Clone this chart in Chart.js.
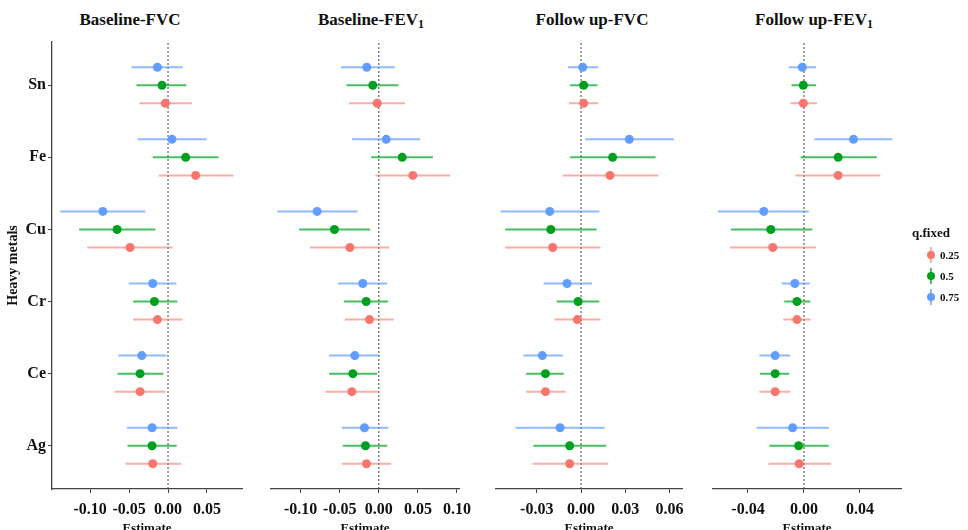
<!DOCTYPE html>
<html>
<head>
<meta charset="utf-8">
<script src="https://cdn.jsdelivr.net/npm/chart.js@4.4.1/dist/chart.umd.min.js"></script>
<style>
  html, body { margin: 0; padding: 0; background: #fff; width: 968px; height: 530px; overflow: hidden; }
  body { position: relative; font-family: "Liberation Serif", "DejaVu Serif", serif; }
  .panel { position: absolute; top: 0; height: 536px; }
  .ttl { position: absolute; top: 10px; font-weight: bold; font-size: 17px; transform: translateX(-50%); white-space: nowrap; color: #111; }
  .ttl sub { font-size: 12px; vertical-align: -3px; }
  #legend { position: absolute; left: 912px; top: 225px; font-weight: bold; color: #111; }
  #legend .lt { font-size: 13px; margin-bottom: 4px; }
  #legend .it { position: relative; height: 21px; font-size: 11px; }
  #legend .it span.lab { position: absolute; left: 28px; top: 4px; }
  #legend .bar { position: absolute; left: 18px; top: 2px; width: 2px; height: 16px; }
  #legend .dot { position: absolute; left: 15px; top: 6px; width: 8px; height: 8px; border-radius: 50%; }
</style>
</head>
<body>
<div class="ttl" style="left:130px">Baseline-FVC</div>
<div class="ttl" style="left:371px">Baseline-FEV<sub>1</sub></div>
<div class="ttl" style="left:592px">Follow up-FVC</div>
<div class="ttl" style="left:814px">Follow up-FEV<sub>1</sub></div>

<div class="panel" style="left:0px;width:262px"><canvas id="p1" width="262" height="536"></canvas></div>
<div class="panel" style="left:251px;width:228px"><canvas id="p2" width="228" height="536"></canvas></div>
<div class="panel" style="left:476px;width:226px"><canvas id="p3" width="226" height="536"></canvas></div>
<div class="panel" style="left:693px;width:228px"><canvas id="p4" width="228" height="536"></canvas></div>

<div id="legend"><div class="lt">q.fixed</div></div>

<script>
// categories, top to bottom
var categories = ["Sn", "Fe", "Cu", "Cr", "Ce", "Ag"];
var quantiles = ["0.25", "0.5", "0.75"];

// [estimate, lower, upper] for each metal
var baseFvc25 = [[-0.0034,-0.0367,0.0308],[0.0355,-0.0119,0.0838],[-0.0487,-0.1038,0.006],[-0.0136,-0.0449,0.0184],[-0.0359,-0.0688,-0.0034],[-0.0196,-0.0547,0.0167]];
var baseFvc50 = [[-0.0077,-0.0405,0.0236],[0.0227,-0.0196,0.065],[-0.0654,-0.1141,-0.0162],[-0.0175,-0.0449,0.012],[-0.0359,-0.0649,-0.0059],[-0.0205,-0.052,0.0111]];
var baseFvc75 = [[-0.0136,-0.047,0.0188],[0.0051,-0.0392,0.0496],[-0.0837,-0.1385,-0.029],[-0.0196,-0.0504,0.0107],[-0.0337,-0.0636,-0.002],[-0.0205,-0.053,0.012]];

var baseFev25 = [[-0.0021,-0.038,0.0333],[0.0436,-0.0043,0.0914],[-0.0371,-0.088,0.0132],[-0.012,-0.0436,0.0192],[-0.0346,-0.0683,-0.0004],[-0.0158,-0.0474,0.0158]];
var baseFev50 = [[-0.0077,-0.0414,0.0252],[0.0299,-0.0098,0.0692],[-0.0568,-0.102,-0.0111],[-0.0162,-0.0448,0.012],[-0.0333,-0.0636,-0.0021],[-0.0171,-0.0461,0.0107]];
var baseFev75 = [[-0.0154,-0.0483,0.0205],[0.0094,-0.0342,0.053],[-0.079,-0.1298,-0.0273],[-0.0205,-0.0521,0.0107],[-0.0307,-0.0636,0.0013],[-0.0184,-0.0474,0.012]];

var followFvc25 = [[0.0018,-0.0081,0.0117],[0.0196,-0.0124,0.0523],[-0.0192,-0.0514,0.0131],[-0.0025,-0.018,0.0131],[-0.0241,-0.0372,-0.0104],[-0.0077,-0.0329,0.0185]];
var followFvc50 = [[0.0018,-0.0074,0.0111],[0.0214,-0.0074,0.0505],[-0.0205,-0.0514,0.0106],[-0.002,-0.0165,0.0124],[-0.0241,-0.0372,-0.0117],[-0.0077,-0.0323,0.0171]];
var followFvc75 = [[0.0011,-0.0088,0.0117],[0.0327,0.0029,0.0629],[-0.0212,-0.0544,0.0124],[-0.0095,-0.0253,0.0074],[-0.0262,-0.039,-0.0124],[-0.0142,-0.0444,0.016]];

var followFev25 = [[-0.0005,-0.0096,0.0093],[0.0244,-0.0062,0.0546],[-0.0223,-0.0529,0.0086],[-0.005,-0.0148,0.0048],[-0.0206,-0.0319,-0.0098],[-0.0034,-0.0254,0.0192]];
var followFev50 = [[-0.0005,-0.0089,0.0086],[0.0244,-0.0024,0.052],[-0.0237,-0.0522,0.006],[-0.005,-0.0141,0.0046],[-0.0206,-0.0314,-0.0105],[-0.0038,-0.0247,0.0177]];
var followFev75 = [[-0.0012,-0.0108,0.0086],[0.0354,0.0074,0.0632],[-0.0287,-0.0616,0.0034],[-0.0065,-0.016,0.0041],[-0.0206,-0.0319,-0.0098],[-0.0081,-0.0338,0.0177]];

// x tick labels per panel
var ticks1 = [-0.10, -0.05, 0.00, 0.05];
var ticks2 = [-0.10, -0.05, 0.00, 0.05, 0.10];
var ticks3 = [-0.03, 0.00, 0.03, 0.06];
var ticks4 = [-0.04, 0.00, 0.04];

var pointColors = ["#F8766D", "#00A01E", "#619CFF"];
var lineColors = ["rgba(248,118,109,0.6)", "rgba(0,160,30,0.7)", "rgba(97,156,255,0.7)"];
var dodge = [-0.25, 0, 0.25];

var FONT = "'Liberation Serif', 'DejaVu Serif', serif";

// legend
var leg = document.getElementById("legend");
quantiles.forEach(function(q, i){
  var d = document.createElement("div");
  d.className = "it";
  d.innerHTML = '<div class="bar" style="background:' + lineColors[i] + '"></div><div class="dot" style="background:' + pointColors[i] + '"></div><span class="lab">' + q + '</span>';
  leg.appendChild(d);
});

function yOf(ci, qi){ return categories.length - ci + dodge[qi]; }

function makePanel(id, series, xmin, xmax, xticks, first){
  var datasets = [];
  // points on top
  series.forEach(function(s, qi){
    datasets.push({
      data: s.map(function(r, ci){ return {x: r[0], y: yOf(ci, qi)}; }),
      pointRadius: 4.5,
      pointBackgroundColor: pointColors[qi],
      pointBorderWidth: 0,
      showLine: false
    });
  });
  // intervals
  series.forEach(function(s, qi){
    var d = [];
    s.forEach(function(r, ci){
      d.push({x: r[1], y: yOf(ci, qi)});
      d.push({x: r[2], y: yOf(ci, qi)});
      d.push({x: null, y: null});
    });
    datasets.push({
      data: d,
      showLine: true,
      spanGaps: false,
      borderColor: lineColors[qi],
      borderWidth: 2,
      pointRadius: 0
    });
  });
  // zero reference line
  datasets.push({
    data: [{x: 0, y: 0.4}, {x: 0, y: 6.6}],
    showLine: true,
    borderColor: "#444",
    borderWidth: 1,
    borderDash: [2, 2],
    pointRadius: 0
  });

  new Chart(document.getElementById(id).getContext("2d"), {
    type: "scatter",
    data: { datasets: datasets },
    options: {
      responsive: false,
      animation: false,
      layout: { padding: { top: 42, right: 20, left: first ? 0 : 20, bottom: 0 } },
      plugins: { legend: { display: false }, tooltip: { enabled: false } },
      scales: {
        x: {
          type: "linear",
          min: xmin,
          max: xmax,
          afterBuildTicks: function(sc){ sc.ticks = xticks.map(function(v){ return {value: v}; }); },
          afterFit: function(sc){ sc.height = 47; },
          grid: { display: true, drawOnChartArea: false, drawTicks: true, tickLength: 4, color: "#444" },
          border: { display: true, color: "#444", width: 1.3 },
          ticks: {
            padding: 7,
            maxRotation: 0,
            autoSkip: false,
            color: "#111",
            font: { family: FONT, size: 16, weight: "bold" },
            callback: function(v){ return v.toFixed(2); }
          },
          title: { display: true, text: "Estimate", color: "#111", padding: 0, font: { family: FONT, size: 13, weight: "bold" } }
        },
        y: {
          type: "linear",
          display: first,
          min: 0.4,
          max: 6.6,
          afterBuildTicks: function(sc){ sc.ticks = categories.map(function(c, ci){ return {value: categories.length - ci}; }); },
          afterFit: function(sc){ if (first) sc.width = 52; },
          grid: { display: true, drawOnChartArea: false, drawTicks: true, tickLength: 4, color: "#444" },
          border: { display: true, color: "#444", width: 1.3 },
          ticks: {
            padding: 2,
            color: "#111",
            font: { family: FONT, size: 16, weight: "bold" },
            callback: function(v){ return categories[categories.length - v]; }
          },
          title: { display: true, text: "Heavy metals", color: "#111", padding: { top: 5, bottom: 0 }, font: { family: FONT, size: 14, weight: "bold" } }
        }
      }
    }
  });
}

makePanel("p1", [baseFvc25, baseFvc50, baseFvc75], -0.149, 0.095, ticks1, true);
makePanel("p2", [baseFev25, baseFev50, baseFev75], -0.138, 0.1026, ticks2, false);
makePanel("p3", [followFvc25, followFvc50, followFvc75], -0.0576, 0.0684, ticks3, false);
makePanel("p4", [followFev25, followFev50, followFev75], -0.065, 0.0693, ticks4, false);
</script>
</body>
</html>
